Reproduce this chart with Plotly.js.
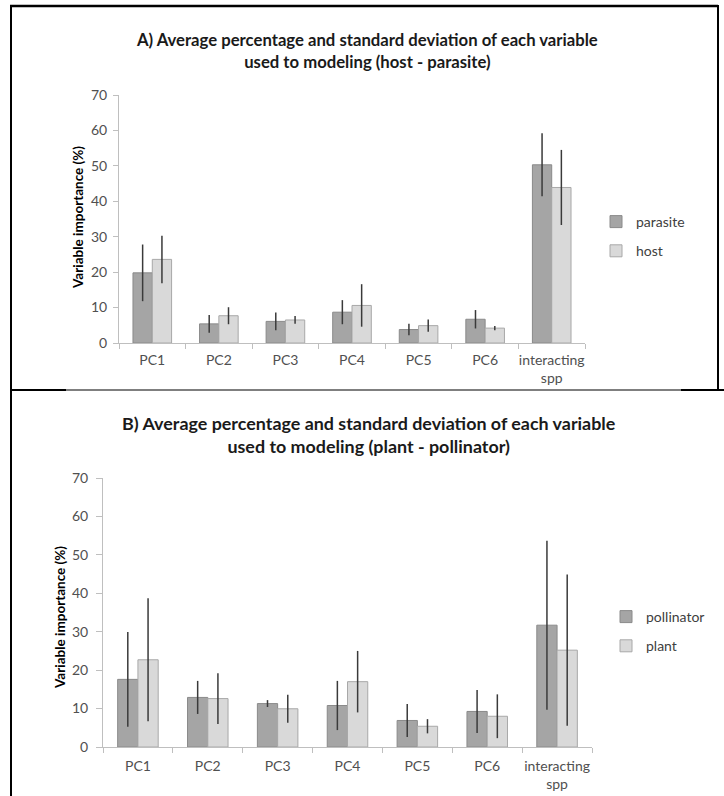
<!DOCTYPE html>
<html>
<head>
<meta charset="utf-8">
<script src="https://cdn.plot.ly/plotly-3.0.1.min.js"></script>
<style>html,body{margin:0;padding:0;background:#fff;}#chart{width:724px;height:796px;}</style>
</head>
<body>
<div id="chart"></div>
<script>
// ---- data ----
const categories = ['PC1', 'PC2', 'PC3', 'PC4', 'PC5', 'PC6', 'interacting<br>spp'];

// Panel A (host - parasite)
const parasiteMean = [19.8, 5.4, 6.1, 8.7, 3.8, 6.7, 50.3];
const parasiteSD   = [8.0, 2.5, 2.5, 3.4, 1.6, 2.6, 8.9];
const hostMean     = [23.6, 7.7, 6.5, 10.6, 4.9, 4.2, 43.9];
const hostSD       = [6.7, 2.4, 1.1, 6.0, 1.75, 0.6, 10.6];

// Panel B (plant - pollinator)
const pollinatorMean = [17.6, 12.9, 11.3, 10.8, 6.9, 9.25, 31.7];
const pollinatorSD   = [12.3, 4.3, 0.9, 6.4, 4.3, 5.6, 22.0];
const plantMean      = [22.7, 12.6, 9.95, 17.0, 5.4, 8.0, 25.2];
const plantSD        = [16.0, 6.6, 3.65, 8.0, 1.85, 5.7, 19.7];

const titleA = 'A) Average percentage and standard deviation of each variable<br>used to modeling (host - parasite)';
const titleB = 'B) Average percentage and standard deviation of each variable<br>used to modeling (plant - pollinator)';
const yTitle = 'Variable importance (%)';

// ---- helpers ----
const W = 724, H = 796;
const px = v => v / W;
const py = v => 1 - v / H;
const FONT = 'Lato, "Open Sans", sans-serif';
const DARK = '#a5a5a5', DARK_LINE = '#8a8a8a';
const LIGHT = '#d9d9d9', LIGHT_LINE = '#a8a8a8';
const ERR = {color: '#3a3a3a', thickness: 1.5, width: 0};

function barTrace(name, y, sd, fill, line, xa, ya, legend, group) {
  return {
    type: 'bar', name: name, x: categories, y: y,
    xaxis: xa, yaxis: ya, legend: legend, legendgroup: group,
    marker: {color: fill, line: {color: line, width: 1}},
    error_y: Object.assign({type: 'data', array: sd, visible: true}, ERR),
    hoverinfo: 'x+y+name'
  };
}

const data = [
  barTrace('parasite', parasiteMean, parasiteSD, DARK, DARK_LINE, 'x', 'y', 'legend', 'a1'),
  barTrace('host', hostMean, hostSD, LIGHT, LIGHT_LINE, 'x', 'y', 'legend', 'a2'),
  barTrace('pollinator', pollinatorMean, pollinatorSD, DARK, DARK_LINE, 'x2', 'y2', 'legend2', 'b1'),
  barTrace('plant', plantMean, plantSD, LIGHT, LIGHT_LINE, 'x2', 'y2', 'legend2', 'b2')
];

const axisCommon = {
  showline: true, linecolor: '#bfbfbf', linewidth: 1,
  ticks: 'outside', ticklen: 5, tickcolor: '#bfbfbf', tickwidth: 1,
  showgrid: false, zeroline: false, automargin: false,
  tickfont: {family: FONT, size: 14, color: '#505050'}
};

const xA = Object.assign({}, axisCommon, {domain: [px(119), px(585)], anchor: 'y', tickson: 'boundaries', type: 'category', tickangle: 0, ticklabelstandoff: 4, fixedrange: true});
const yA = Object.assign({}, axisCommon, {domain: [py(343), py(95)], anchor: 'x', range: [0, 70], dtick: 10, tick0: 0, ticklabelstandoff: 3, fixedrange: true});
const xB = Object.assign({}, axisCommon, {domain: [px(103), px(592)], anchor: 'y2', tickson: 'boundaries', type: 'category', tickangle: 0, ticklabelstandoff: 6, fixedrange: true});
const yB = Object.assign({}, axisCommon, {domain: [py(747), py(478)], anchor: 'x2', range: [0, 70], dtick: 10, tick0: 0, ticklen: 6, ticklabelstandoff: 5, fixedrange: true});

function line(x0, y0, x1, y1, w) {
  return {type: 'line', xref: 'paper', yref: 'paper', x0: px(x0), y0: py(y0), x1: px(x1), y1: py(y1), line: {color: '#000', width: w}};
}

const legendCommon = {
  xanchor: 'left', yanchor: 'top', bgcolor: 'rgba(0,0,0,0)',
  font: {family: FONT, size: 14, color: '#404040'},
  traceorder: 'grouped', tracegroupgap: 8, itemwidth: 30
};

const layout = {
  width: W, height: H,
  margin: {l: 0, r: 0, t: 0, b: 0, pad: 0},
  paper_bgcolor: '#fff', plot_bgcolor: '#fff',
  barmode: 'group',
  bargap: 0.42, bargroupgap: 0,
  showlegend: true,
  font: {family: FONT, color: '#404040'},
  xaxis: xA, yaxis: yA, xaxis2: xB, yaxis2: yB,
  legend: Object.assign({}, legendCommon, {x: px(596), y: py(206)}),
  legend2: Object.assign({}, legendCommon, {x: px(606), y: py(601)}),
  annotations: [
    {text: titleA, xref: 'paper', yref: 'paper', x: px(367), y: py(51), xanchor: 'center', yanchor: 'middle', showarrow: false,
     font: {family: FONT, size: 16.7, color: '#1a1a1a', weight: 'bold'}},
    {text: titleB, xref: 'paper', yref: 'paper', x: px(368), y: py(434), xanchor: 'center', yanchor: 'middle', showarrow: false,
     font: {family: FONT, size: 17.9, color: '#1a1a1a', weight: 'bold'}},
    {text: yTitle, xref: 'paper', yref: 'paper', x: px(78), y: py(218), xanchor: 'center', yanchor: 'middle', textangle: -90, showarrow: false,
     font: {family: FONT, size: 13.5, color: '#000', weight: 'bold'}},
    {text: yTitle, xref: 'paper', yref: 'paper', x: px(60), y: py(618), xanchor: 'center', yanchor: 'middle', textangle: -90, showarrow: false,
     font: {family: FONT, size: 13.5, color: '#000', weight: 'bold'}}
  ],
  shapes: [
    line(10, 6, 718, 6, 2.5),
    line(11, 5, 11, 796, 2),
    line(718, 5, 718, 390, 2),
    line(10, 390, 66, 390, 2),
    line(66, 390, 681, 390, 1.2),
    line(681, 390, 724, 390, 2)
  ]
};

Plotly.newPlot('chart', data, layout, {displayModeBar: false, staticPlot: false, responsive: false});
</script>
</body>
</html>
